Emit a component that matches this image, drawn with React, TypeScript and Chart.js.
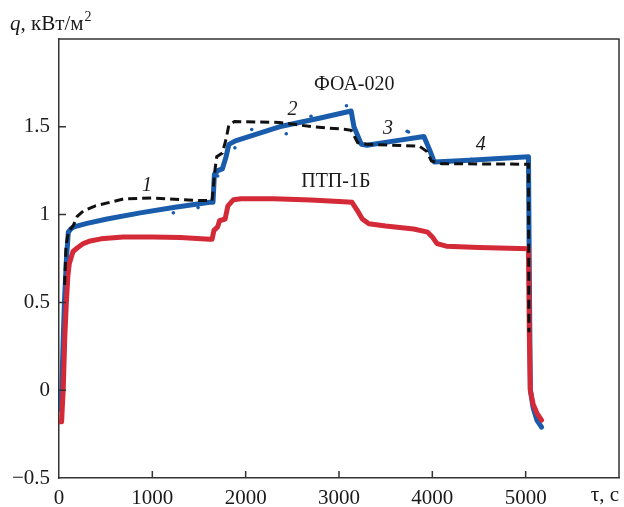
import React, { useEffect, useRef } from 'react';
import { Chart, registerables } from 'chart.js';

Chart.register(...registerables);

// ---- data ----
const xTickValues = [0, 1000, 2000, 3000, 4000, 5000];
const yTickValues = [-0.5, 0, 0.5, 1, 1.5];

// ПТП-1Б (red)
const redT = [0, 28, 35, 45, 62, 79, 95, 110, 150, 195, 260, 335, 450, 690, 1000, 1300, 1615, 1640, 1660, 1700, 1720, 1780, 1810, 1870, 1950, 2300, 2700, 3000, 3140, 3200, 3250, 3320, 3500, 3800, 3950, 4000, 4050, 4150, 4500, 5030, 5040, 5050, 5080, 5120, 5170];
const redQ = [-0.18, -0.18, -0.1, 0.0, 0.3, 0.5, 0.65, 0.72, 0.79, 0.81, 0.835, 0.85, 0.862, 0.873, 0.873, 0.87, 0.86, 0.86, 0.91, 0.93, 0.965, 0.975, 1.05, 1.085, 1.09, 1.09, 1.083, 1.075, 1.07, 1.02, 0.975, 0.948, 0.935, 0.918, 0.9, 0.873, 0.835, 0.82, 0.812, 0.805, 0.3, 0.0, -0.08, -0.13, -0.17];

// ФОА-020 measured (blue)
const blueT = [15, 30, 40, 58, 80, 100, 130, 160, 300, 515, 870, 1225, 1615, 1650, 1665, 1700, 1750, 1790, 1820, 1890, 2360, 2800, 3130, 3160, 3240, 3300, 3600, 3910, 3970, 4020, 4400, 5030, 5040, 5050, 5080, 5120, 5170];
const blueQ = [-0.11, 0.0, 0.2, 0.5, 0.75, 0.9, 0.92, 0.93, 0.95, 0.975, 1.01, 1.04, 1.07, 1.07, 1.23, 1.25, 1.26, 1.33, 1.4, 1.42, 1.5, 1.55, 1.59, 1.5, 1.4, 1.395, 1.42, 1.445, 1.37, 1.3, 1.31, 1.33, 0.6, 0.0, -0.1, -0.17, -0.21];

// blue scattered measurement points
const dotT = [1225, 1490, 1885, 2065, 2435, 3080, 3730, 3745, 4420, 1700, 2700];
const dotQ = [1.01, 1.04, 1.38, 1.485, 1.46, 1.62, 1.475, 1.47, 1.315, 1.22, 1.56];

// model (black dashed)
const modelT = [60, 75, 100, 155, 195, 260, 390, 700, 1000, 1300, 1500, 1640, 1670, 1690, 1750, 1790, 1820, 1880, 2360, 2720, 3075, 3130, 3200, 3300, 3860, 3940, 3990, 4100, 5030, 5035];
const modelQ = [0.6, 0.82, 0.9, 0.94, 0.99, 1.02, 1.05, 1.09, 1.095, 1.085, 1.08, 1.08, 1.25, 1.33, 1.35, 1.43, 1.51, 1.53, 1.525, 1.5, 1.485, 1.48, 1.41, 1.4, 1.39, 1.36, 1.305, 1.29, 1.287, 0.33];

// annotations
const labelTexts = ['ФОА-020', 'ПТП-1Б', '1', '2', '3', '4'];
const labelT = [3163, 2966, 943, 2502, 3526, 4519];
const labelQ = [1.74, 1.187, 1.162, 1.598, 1.49, 1.40];
const labelItalic = [false, false, true, true, true, true];

const pts = (t: number[], q: number[]) => t.map((v, i) => ({ x: v, y: q[i] }));

const SERIF = '"Liberation Serif", "DejaVu Serif", serif';
const AXIS_COLOR = '#333333';

const decorPlugin = {
  id: 'decor',
  afterDatasetsDraw(chart: any) {
    const ctx = chart.ctx;
    const xs = chart.scales.x;
    const ys = chart.scales.y;
    ctx.save();
    ctx.fillStyle = '#1a1a1a';
    ctx.textAlign = 'center';
    ctx.textBaseline = 'middle';
    labelTexts.forEach((txt, i) => {
      ctx.font = (labelItalic[i] ? 'italic ' : '') + '20px ' + SERIF;
      ctx.fillText(txt, xs.getPixelForValue(labelT[i]), ys.getPixelForValue(labelQ[i]));
    });
    ctx.restore();
  },
  afterDraw(chart: any) {
    const ctx = chart.ctx;
    const a = chart.chartArea;
    const xs = chart.scales.x;
    const ys = chart.scales.y;
    ctx.save();
    ctx.strokeStyle = AXIS_COLOR;
    ctx.lineWidth = 1.5;
    // top and right frame
    ctx.beginPath();
    ctx.moveTo(a.left, a.top);
    ctx.lineTo(a.right, a.top);
    ctx.lineTo(a.right, a.bottom);
    ctx.stroke();
    // inward ticks
    ctx.beginPath();
    xTickValues.forEach((v) => {
      if (v === 0) return;
      const px = xs.getPixelForValue(v);
      ctx.moveTo(px, a.bottom);
      ctx.lineTo(px, a.bottom - 7);
    });
    yTickValues.forEach((v) => {
      if (v === -0.5) return;
      const py = ys.getPixelForValue(v);
      ctx.moveTo(a.left, py);
      ctx.lineTo(a.left + 7, py);
    });
    ctx.stroke();
    // axis titles
    ctx.fillStyle = '#1a1a1a';
    ctx.textBaseline = 'alphabetic';
    ctx.textAlign = 'left';
    let x = 10;
    const base = 30;
    ctx.font = 'italic 21px ' + SERIF;
    ctx.fillText('q', x, base);
    x += ctx.measureText('q').width;
    ctx.font = '21px ' + SERIF;
    const rest = ', кВт/м';
    ctx.fillText(rest, x, base);
    x += ctx.measureText(rest).width + 1;
    ctx.font = '14px ' + SERIF;
    ctx.fillText('2', x, base - 9);
    ctx.font = '21px ' + SERIF;
    ctx.textAlign = 'right';
    ctx.textBaseline = 'middle';
    ctx.fillText('τ, с', a.right, 495);
    ctx.restore();
  },
};

export default function App() {
  const ref = useRef<HTMLCanvasElement | null>(null);
  useEffect(() => {
    document.body.style.margin = '0';
    const canvas = ref.current;
    if (!canvas) return;
    const chart = new Chart(canvas, {
      type: 'line',
      data: {
        datasets: [
          {
            label: 'model',
            data: pts(modelT, modelQ),
            borderColor: '#111111',
            borderWidth: 3,
            borderDash: [9, 5],
            pointRadius: 0,
            fill: false,
            tension: 0,
          },
          {
            label: 'ПТП-1Б',
            data: pts(redT, redQ),
            borderColor: 'rgb(212, 42, 56)',
            borderWidth: 5,
            pointRadius: 0,
            fill: false,
            tension: 0,
            borderJoinStyle: 'round',
            borderCapStyle: 'round',
          },
          {
            label: 'ФОА-020',
            data: pts(blueT, blueQ),
            borderColor: 'rgb(26, 92, 172)',
            borderWidth: 5,
            pointRadius: 0,
            fill: false,
            tension: 0,
            borderJoinStyle: 'round',
            borderCapStyle: 'round',
          },
          {
            type: 'scatter',
            label: 'dots',
            data: pts(dotT, dotQ),
            backgroundColor: 'rgb(26, 92, 172)',
            borderWidth: 0,
            pointRadius: 1.8,
            showLine: false,
          } as any,
        ],
      },
      options: {
        animation: false,
        responsive: false,
        maintainAspectRatio: false,
        layout: { padding: { left: 0, top: 39, right: 5, bottom: 0 } },
        plugins: { legend: { display: false }, tooltip: { enabled: false } },
        scales: {
          x: {
            type: 'linear',
            min: 0,
            max: 6000,
            afterFit: (s: any) => { s.height = 29; },
            afterBuildTicks: (s: any) => { s.ticks = xTickValues.map((v) => ({ value: v })); },
            grid: { display: false, drawTicks: false },
            border: { display: true, color: AXIS_COLOR, width: 1.5 },
            ticks: {
              padding: 8,
              color: '#1a1a1a',
              font: { family: SERIF, size: 21 },
              maxRotation: 0,
              autoSkip: false,
              callback: (v: any) => String(v),
            },
          },
          y: {
            type: 'linear',
            min: -0.5,
            max: 2,
            afterFit: (s: any) => { s.width = 59; },
            afterBuildTicks: (s: any) => { s.ticks = yTickValues.map((v) => ({ value: v })); },
            grid: { display: false, drawTicks: false },
            border: { display: true, color: AXIS_COLOR, width: 1.5 },
            ticks: {
              padding: 9,
              color: '#1a1a1a',
              font: { family: SERIF, size: 21 },
              autoSkip: false,
              callback: (v: any) => (v < 0 ? '−' + String(Math.abs(v)) : String(v)),
            },
          },
        },
      },
      plugins: [decorPlugin],
    });
    return () => chart.destroy();
  }, []);
  return (
    <div style={{ position: 'absolute', left: 0, top: 0, width: 624, height: 507, background: '#fff' }}>
      <canvas ref={ref} width={624} height={507} style={{ width: 624, height: 507, display: 'block' }} />
    </div>
  );
}
